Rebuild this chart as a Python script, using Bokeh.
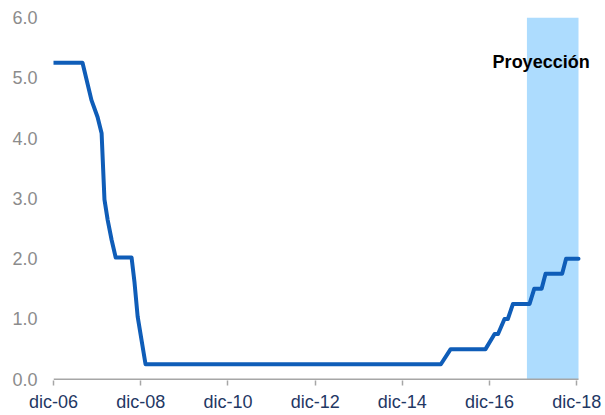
import pandas as pd
from bokeh.plotting import figure
from bokeh.models import FixedTicker, NumeralTickFormatter, Range1d, ColumnDataSource
from bokeh.core.properties import value
from bokeh.embed import file_html
from bokeh.resources import INLINE

# Data (policy rate, %)
rate_dates = ["2006-12-01", "2007-08-01", "2007-10-15", "2007-12-05", "2008-01-08",
              "2008-02-01", "2008-02-28", "2008-04-01", "2008-05-05", "2008-09-15",
              "2008-10-10", "2008-11-05", "2009-01-10", "2015-10-20", "2016-01-10",
              "2016-10-28", "2017-01-12", "2017-02-10", "2017-04-05", "2017-05-03",
              "2017-06-15", "2017-11-01", "2017-12-10", "2018-02-10", "2018-03-15",
              "2018-08-01", "2018-09-03", "2018-12-16"]
rate_values = [5.25, 5.25, 4.63, 4.35, 4.08,
               2.98, 2.64, 2.31, 2.02, 2.02,
               1.60, 1.04, 0.25, 0.25, 0.50,
               0.50, 0.75, 0.75, 1.00, 1.00,
               1.25, 1.25, 1.50, 1.50, 1.75,
               1.75, 2.00, 2.00]

tick_dates = ["2006-12-01", "2008-12-01", "2010-12-01", "2012-12-01",
              "2014-12-01", "2016-12-01", "2018-12-01"]
tick_labels = ["dic-06", "dic-08", "dic-10", "dic-12", "dic-14", "dic-16", "dic-18"]
y_ticks = [0, 1, 2, 3, 4, 5, 6]

projection_start = "2017-10-10"
projection_end = "2018-12-16"
projection_label = "Proyección"
projection_label_date = "2018-02-06"
projection_label_y = 5.26

x_start = "2006-12-01"
x_end = "2018-12-16"


def ms(d):
    return pd.Timestamp(d).value / 1e6


# plot area is widened past the axis end so the label is not clipped
axis_px = 525
frame_px = 542
x_lo = ms(x_start)
x_hi = x_lo + (ms(x_end) - x_lo) * frame_px / axis_px

src = ColumnDataSource(dict(x=pd.to_datetime(rate_dates), y=rate_values))

p = figure(
    x_axis_type="datetime",
    frame_width=frame_px, frame_height=363,
    min_border_left=53, min_border_top=17, min_border_right=8, min_border_bottom=0,
    x_range=Range1d(x_lo, x_hi),
    y_range=Range1d(-0.02, 6),
    output_backend="svg", toolbar_location=None,
)

# projection band
p.quad(left=[pd.Timestamp(projection_start)], right=[pd.Timestamp(projection_end)],
       bottom=[0], top=[6], fill_color="#ADDCFE", line_color=None)

# axis baseline (drawn to the end of the data period only)
p.segment(x0=[pd.Timestamp(x_start)], y0=[0], x1=[pd.Timestamp(x_end)], y1=[0],
          line_color="#A6A6A6", line_width=1.5)

p.line("x", "y", source=src, line_color="#0F5DB8", line_width=4,
       line_join="round", line_cap="round")

p.text(x=[pd.Timestamp(projection_label_date)], y=[projection_label_y], text=[projection_label],
       text_font=value("Liberation Sans"), text_font_style="bold",
       text_font_size="18px", text_color="#000000",
       text_align="center", text_baseline="middle")

p.grid.visible = False
p.outline_line_color = None
p.background_fill_color = "white"
p.border_fill_color = "white"

xa = p.xaxis[0]
xa.ticker = FixedTicker(ticks=[ms(d) for d in tick_dates])
xa.major_label_overrides = {ms(d): l for d, l in zip(tick_dates, tick_labels)}
xa.axis_line_color = None
xa.major_tick_line_color = "#A6A6A6"
xa.major_tick_line_width = 1.5
xa.major_tick_out = 5
xa.major_tick_in = 0
xa.minor_tick_line_color = None
xa.major_label_standoff = 6
xa.major_label_text_font = "Liberation Sans"
xa.major_label_text_font_size = "18px"
xa.major_label_text_color = "#1F3864"

ya = p.yaxis[0]
ya.ticker = FixedTicker(ticks=y_ticks)
ya.formatter = NumeralTickFormatter(format="0.0")
ya.axis_line_color = None
ya.major_tick_line_color = None
ya.minor_tick_line_color = None
ya.major_tick_out = 0
ya.major_tick_in = 0
ya.major_label_standoff = 16
ya.major_label_text_font = "Liberation Sans"
ya.major_label_text_font_size = "18px"
ya.major_label_text_color = "#8C8C8C"

open("out.html", "w").write(file_html(p, INLINE))
